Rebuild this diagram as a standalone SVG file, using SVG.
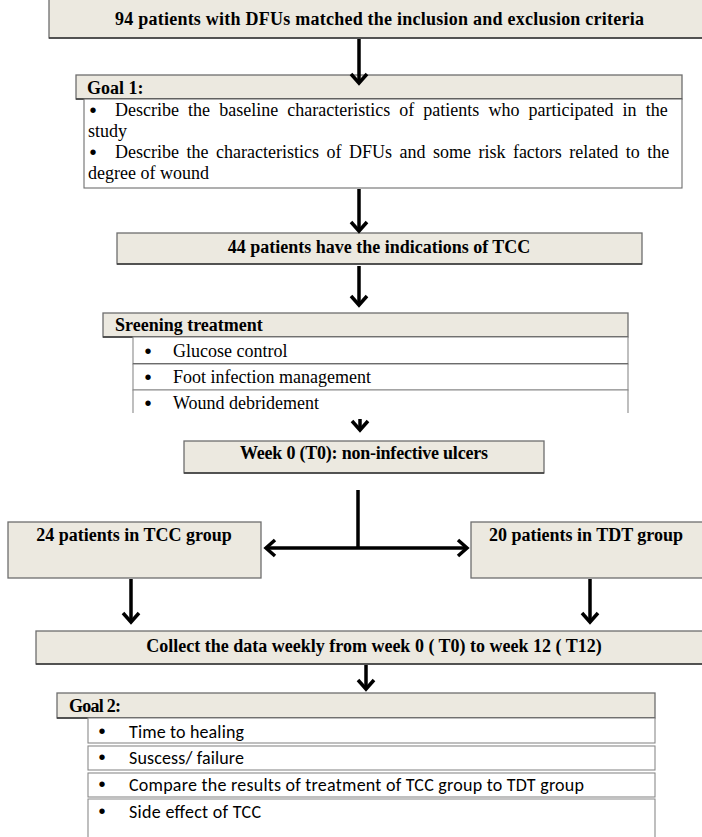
<svg xmlns="http://www.w3.org/2000/svg" width="702" height="837" viewBox="0 0 702 837">
<defs>
<style>
.hdr{fill:#ece9e0;stroke:#6e6e6e;stroke-width:1.3}
.sh{stroke:#3a3a3a;stroke-width:1.6;fill:none}
.body{fill:#fff;stroke:#6e6e6e;stroke-width:1.1}
.row{fill:#fff;stroke:#8a8a8a;stroke-width:1.1}
.b{font-family:"Liberation Serif","Times New Roman",serif;font-weight:bold;font-size:18px;fill:#000}
.r{font-family:"Liberation Serif","Times New Roman",serif;font-size:18px;fill:#000}
.bu{font-family:"Liberation Sans",Arial,sans-serif;font-size:20px;fill:#000;text-anchor:middle}
.s{font-family:Carlito,Calibri,"Liberation Sans",sans-serif;font-size:18px;fill:#000}
.c{stroke:#000;stroke-width:3.5;fill:none}
</style>
<marker id="ah" markerUnits="userSpaceOnUse" markerWidth="20" markerHeight="24" refX="10" refY="9" orient="auto-start-reverse" overflow="visible">
<path d="M1,1 L10,9 L1,17" fill="none" stroke="#000" stroke-width="3.5" stroke-linejoin="miter"/>
</marker>
</defs>

<g id="n_top">
<rect class="hdr" x="49" y="-5" width="665" height="43"/>
<line class="sh" x1="49" y1="38" x2="702" y2="38"/>
<text class="b" x="115" y="25" textLength="529">94 patients with DFUs matched the inclusion and exclusion criteria</text>
</g>

<g id="n_goal1">
<rect class="hdr" x="76" y="75" width="606" height="24"/>
<line class="sh" x1="76" y1="99" x2="682" y2="99"/>
<text class="b" x="87" y="94">Goal 1:</text>
<rect class="body" x="84" y="99" width="598" height="89"/>
<text class="bu" x="93" y="117">•</text>
<text class="r" x="115" y="116" word-spacing="4.6">Describe the baseline characteristics of patients who participated in the</text>
<text class="r" x="88" y="137">study</text>
<text class="bu" x="93" y="159">•</text>
<text class="r" x="115" y="158" word-spacing="3">Describe the characteristics of DFUs and some risk factors related to the</text>
<text class="r" x="88" y="179">degree of wound</text>
</g>

<g id="n_tcc_ind">
<rect class="hdr" x="117" y="233" width="525" height="31"/>
<line class="sh" x1="117" y1="264" x2="642" y2="264"/>
<text class="b" x="379" y="253" text-anchor="middle">44 patients have the indications of TCC</text>
</g>

<g id="n_screen">
<rect class="hdr" x="103" y="313" width="525" height="24"/>
<line class="sh" x1="103" y1="337" x2="628" y2="337"/>
<text class="b" x="115" y="331">Sreening treatment</text>
<rect class="row" x="133" y="337" width="495" height="27"/>
<line x1="133" y1="364" x2="628" y2="364" stroke="#222" stroke-width="1.4"/>
<rect class="row" x="133" y="364" width="495" height="26"/>
<path d="M133,413 V390 H628 V413" fill="#fff" stroke="#8a8a8a" stroke-width="1.1"/>
<text class="bu" x="148" y="358">•</text>
<text class="r" x="173" y="357">Glucose control</text>
<text class="bu" x="148" y="384">•</text>
<text class="r" x="173" y="383">Foot infection management</text>
<text class="bu" x="148" y="410">•</text>
<text class="r" x="173" y="409">Wound debridement</text>
</g>

<g id="n_week0">
<rect class="hdr" x="184" y="441" width="360" height="32"/>
<line class="sh" x1="184" y1="473" x2="544" y2="473"/>
<text class="b" x="364" y="459" text-anchor="middle" textLength="248">Week 0  (T0): non-infective ulcers</text>
</g>

<g id="n_tcc">
<rect class="hdr" x="8" y="522" width="253" height="56"/>
<text class="b" x="134" y="541" text-anchor="middle">24 patients in TCC group</text>
</g>

<g id="n_tdt">
<rect class="hdr" x="471" y="522" width="243" height="56"/>
<text class="b" x="586" y="541" text-anchor="middle">20 patients in TDT group</text>
</g>

<g id="n_collect">
<rect class="hdr" x="36" y="631" width="678" height="33"/>
<line class="sh" x1="36" y1="664" x2="702" y2="664"/>
<text class="b" x="374" y="652" text-anchor="middle">Collect the data weekly from week 0 ( T0) to week 12 ( T12)</text>
</g>

<g id="n_goal2">
<rect class="hdr" x="57" y="693" width="598" height="25"/>
<line class="sh" x1="57" y1="718" x2="655" y2="718"/>
<text class="b" x="69" y="712" textLength="52">Goal 2:</text>
<rect class="row" x="88" y="718" width="567" height="25"/>
<rect class="row" x="88" y="746" width="567" height="24"/>
<rect class="row" x="88" y="773" width="567" height="24"/>
<path d="M88,840 V799 H655 V840" fill="#fff" stroke="#8a8a8a" stroke-width="1.1"/>
<text class="bu" x="102" y="738">•</text>
<text class="s" x="129" y="738" textLength="115">Time to healing</text>
<text class="bu" x="102" y="764">•</text>
<text class="s" x="129" y="764" textLength="115">Suscess/ failure</text>
<text class="bu" x="102" y="791">•</text>
<text class="s" x="129" y="791" textLength="455">Compare the results of treatment of TCC group to TDT group</text>
<text class="bu" x="102" y="818">•</text>
<text class="s" x="129" y="818" textLength="132">Side effect of TCC</text>
</g>

<g id="connectors">
<line class="c" x1="359" y1="39" x2="359" y2="83" marker-end="url(#ah)"/>
<line class="c" x1="359" y1="189" x2="359" y2="231" marker-end="url(#ah)"/>
<line class="c" x1="359" y1="266" x2="359" y2="305" marker-end="url(#ah)"/>
<line class="c" x1="360" y1="419" x2="360" y2="430" marker-end="url(#ah)"/>
<line class="c" x1="358" y1="490" x2="358" y2="548"/>
<line class="c" x1="266" y1="548" x2="467" y2="548" marker-start="url(#ah)" marker-end="url(#ah)"/>
<line class="c" x1="131" y1="579" x2="131" y2="622" marker-end="url(#ah)"/>
<line class="c" x1="590" y1="579" x2="590" y2="622" marker-end="url(#ah)"/>
<line class="c" x1="366" y1="665" x2="366" y2="689" marker-end="url(#ah)"/>
</g>
</svg>
